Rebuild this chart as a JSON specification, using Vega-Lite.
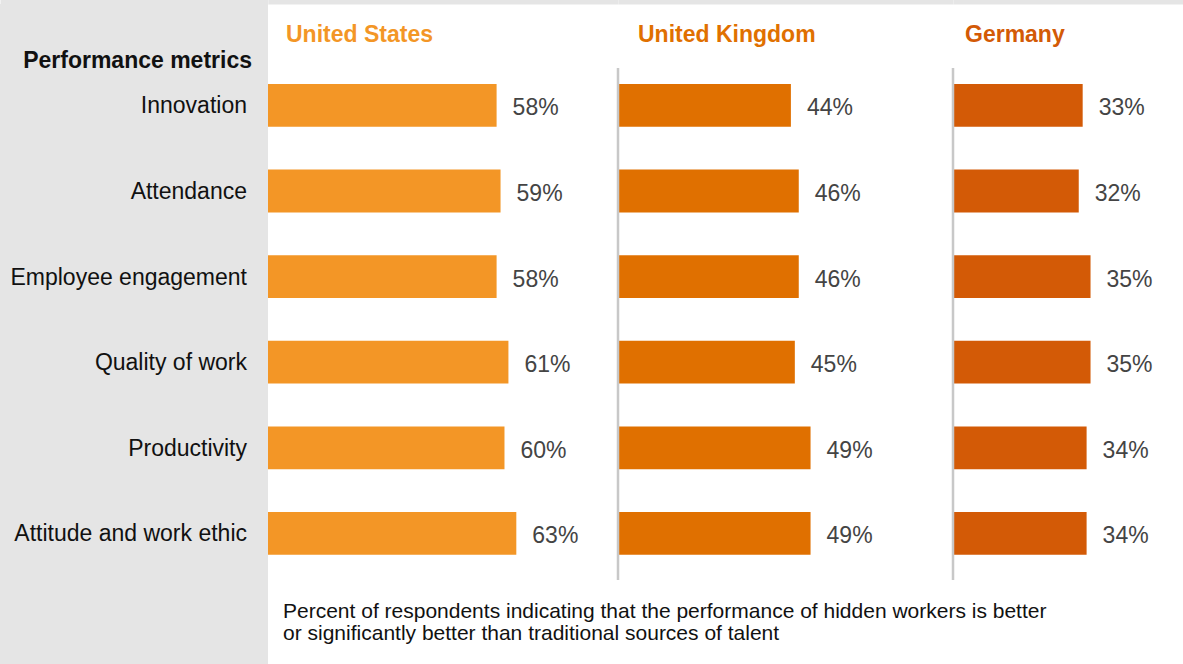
{
  "$schema": "https://vega.github.io/schema/vega-lite/v6.json",
  "background": "white",
  "padding": {"top": 0, "left": 0, "right": 0, "bottom": 0},
  "bounds": "flush",
  "spacing": 0,
  "config": {"view": {"stroke": null}, "text": {"font": "Liberation Sans"}},
  "data": {"values": [
    {"country": "United States", "metric": "Innovation", "value": 0.58},
    {"country": "United States", "metric": "Attendance", "value": 0.59},
    {"country": "United States", "metric": "Employee engagement", "value": 0.58},
    {"country": "United States", "metric": "Quality of work", "value": 0.61},
    {"country": "United States", "metric": "Productivity", "value": 0.60},
    {"country": "United States", "metric": "Attitude and work ethic", "value": 0.63},
    {"country": "United Kingdom", "metric": "Innovation", "value": 0.44},
    {"country": "United Kingdom", "metric": "Attendance", "value": 0.46},
    {"country": "United Kingdom", "metric": "Employee engagement", "value": 0.46},
    {"country": "United Kingdom", "metric": "Quality of work", "value": 0.45},
    {"country": "United Kingdom", "metric": "Productivity", "value": 0.49},
    {"country": "United Kingdom", "metric": "Attitude and work ethic", "value": 0.49},
    {"country": "Germany", "metric": "Innovation", "value": 0.33},
    {"country": "Germany", "metric": "Attendance", "value": 0.32},
    {"country": "Germany", "metric": "Employee engagement", "value": 0.35},
    {"country": "Germany", "metric": "Quality of work", "value": 0.35},
    {"country": "Germany", "metric": "Productivity", "value": 0.34},
    {"country": "Germany", "metric": "Attitude and work ethic", "value": 0.34}
  ]},
  "resolve": {"scale": {"x": "independent", "y": "independent"}},
  "hconcat": [
    {
      "width": 268, "height": 660,
      "view": {"fill": "#e5e5e5", "stroke": null},
      "transform": [{"filter": "datum.country === 'United States'"}],
      "layer": [
        {
          "mark": {"type": "text", "align": "right", "baseline": "middle", "dx": -21, "dy": 1, "fontSize": 23, "color": "#111111"},
          "encoding": {
            "y": {"field": "metric", "type": "nominal", "sort": null, "axis": null,
                  "scale": {"type": "band", "domain": ["Innovation", "Attendance", "Employee engagement", "Quality of work", "Productivity", "Attitude and work ethic"], "paddingInner": 0.29, "paddingOuter": 1, "align": 0.4147}},
            "x": {"datum": 1, "type": "quantitative", "scale": {"domain": [0, 1], "nice": false},
                  "axis": {"orient": "top", "labels": false, "ticks": false, "grid": false, "title": null, "domain": true, "domainColor": "#e5e5e5", "domainWidth": 8, "offset": 4}},
            "text": {"field": "metric"}
          }
        },
        {
          "transform": [{"filter": "datum.metric === 'Innovation'"}],
          "mark": {"type": "text", "align": "right", "baseline": "alphabetic", "dx": -16, "fontSize": 23, "fontWeight": "bold", "color": "#111111"},
          "encoding": {
            "y": {"datum": "Innovation", "type": "nominal", "bandPosition": -0.115},
            "x": {"datum": 1, "type": "quantitative"},
            "text": {"value": "Performance metrics"}
          }
        }
      ]
    },
    {
      "width": 350, "height": 660,
      "transform": [{"filter": "datum.country === 'United States'"}],
      "layer": [
        {
          "mark": {"type": "bar", "color": "#F39626", "height": {"band": 0.704}},
          "encoding": {
            "y": {"field": "metric", "type": "nominal", "sort": null, "axis": null,
                  "scale": {"type": "band", "domain": ["Innovation", "Attendance", "Employee engagement", "Quality of work", "Productivity", "Attitude and work ethic"], "paddingInner": 0.29, "paddingOuter": 1, "align": 0.4147}},
            "x": {"field": "value", "type": "quantitative", "scale": {"domain": [0, 0.888], "nice": false},
                  "axis": {"orient": "top", "labels": false, "ticks": false, "grid": false, "title": null, "domain": true, "domainColor": "#e5e5e5", "domainWidth": 8, "offset": 4}}
          }
        },
        {
          "mark": {"type": "text", "align": "left", "baseline": "middle", "dx": 16, "dy": 3, "fontSize": 23, "color": "#444444"},
          "encoding": {
            "y": {"field": "metric", "type": "nominal", "sort": null},
            "x": {"field": "value", "type": "quantitative"},
            "text": {"field": "value", "type": "quantitative", "format": ".0%"}
          }
        },
        {
          "transform": [{"filter": "datum.metric === 'Innovation'"}],
          "mark": {"type": "text", "align": "left", "baseline": "alphabetic", "dx": 18, "fontSize": 23, "fontWeight": "bold", "color": "#F39626"},
          "encoding": {
            "y": {"datum": "Innovation", "type": "nominal", "bandPosition": -0.543},
            "x": {"datum": 0, "type": "quantitative"},
            "text": {"field": "country"}
          }
        },
        {
          "transform": [{"filter": "datum.metric === 'Attitude and work ethic'"}],
          "mark": {"type": "text", "align": "left", "baseline": "alphabetic", "dx": 15, "fontSize": 21, "lineHeight": 22, "color": "#111111"},
          "encoding": {
            "y": {"datum": "Attitude and work ethic", "type": "nominal", "bandPosition": 1.9},
            "x": {"datum": 0, "type": "quantitative"},
            "text": {"value": ["Percent of respondents indicating that the performance of hidden workers is better", "or significantly better than traditional sources of talent"]}
          }
        }
      ]
    },
    {
      "width": 335, "height": 660,
      "transform": [{"filter": "datum.country === 'United Kingdom'"}],
      "layer": [
        {
          "mark": {"type": "bar", "color": "#E07000", "height": {"band": 0.704}},
          "encoding": {
            "y": {"field": "metric", "type": "nominal", "sort": null, "axis": null,
                  "scale": {"type": "band", "domain": ["Innovation", "Attendance", "Employee engagement", "Quality of work", "Productivity", "Attitude and work ethic"], "paddingInner": 0.29, "paddingOuter": 1, "align": 0.4147}},
            "x": {"field": "value", "type": "quantitative", "scale": {"domain": [0, 0.8525], "nice": false},
                  "axis": {"orient": "top", "labels": false, "ticks": false, "grid": false, "title": null, "domain": true, "domainColor": "#e5e5e5", "domainWidth": 8, "offset": 4}}
          }
        },
        {
          "mark": {"type": "text", "align": "left", "baseline": "middle", "dx": 16, "dy": 3, "fontSize": 23, "color": "#444444"},
          "encoding": {
            "y": {"field": "metric", "type": "nominal", "sort": null},
            "x": {"field": "value", "type": "quantitative"},
            "text": {"field": "value", "type": "quantitative", "format": ".0%"}
          }
        },
        {
          "transform": [{"filter": "datum.metric === 'Innovation'"}],
          "mark": {"type": "rule", "color": "#c8c8c8", "strokeWidth": 2.5},
          "encoding": {
            "y": {"datum": "Innovation", "type": "nominal", "bandPosition": -0.115},
            "y2": {"datum": "Attitude and work ethic", "bandPosition": 1.266},
            "x": {"datum": 0, "type": "quantitative"}
          }
        },
        {
          "transform": [{"filter": "datum.metric === 'Innovation'"}],
          "mark": {"type": "text", "align": "left", "baseline": "alphabetic", "dx": 20, "fontSize": 23, "fontWeight": "bold", "color": "#E07000"},
          "encoding": {
            "y": {"datum": "Innovation", "type": "nominal", "bandPosition": -0.543},
            "x": {"datum": 0, "type": "quantitative"},
            "text": {"field": "country"}
          }
        }
      ]
    },
    {
      "width": 230, "height": 660,
      "transform": [{"filter": "datum.country === 'Germany'"}],
      "layer": [
        {
          "mark": {"type": "bar", "color": "#D35A06", "height": {"band": 0.704}},
          "encoding": {
            "y": {"field": "metric", "type": "nominal", "sort": null, "axis": null,
                  "scale": {"type": "band", "domain": ["Innovation", "Attendance", "Employee engagement", "Quality of work", "Productivity", "Attitude and work ethic"], "paddingInner": 0.29, "paddingOuter": 1, "align": 0.4147}},
            "x": {"field": "value", "type": "quantitative", "scale": {"domain": [0, 0.5853], "nice": false},
                  "axis": {"orient": "top", "labels": false, "ticks": false, "grid": false, "title": null, "domain": true, "domainColor": "#e5e5e5", "domainWidth": 8, "offset": 4}}
          }
        },
        {
          "mark": {"type": "text", "align": "left", "baseline": "middle", "dx": 16, "dy": 3, "fontSize": 23, "color": "#444444"},
          "encoding": {
            "y": {"field": "metric", "type": "nominal", "sort": null},
            "x": {"field": "value", "type": "quantitative"},
            "text": {"field": "value", "type": "quantitative", "format": ".0%"}
          }
        },
        {
          "transform": [{"filter": "datum.metric === 'Innovation'"}],
          "mark": {"type": "rule", "color": "#c8c8c8", "strokeWidth": 2.5},
          "encoding": {
            "y": {"datum": "Innovation", "type": "nominal", "bandPosition": -0.115},
            "y2": {"datum": "Attitude and work ethic", "bandPosition": 1.266},
            "x": {"datum": 0, "type": "quantitative"}
          }
        },
        {
          "transform": [{"filter": "datum.metric === 'Innovation'"}],
          "mark": {"type": "text", "align": "left", "baseline": "alphabetic", "dx": 12, "fontSize": 23, "fontWeight": "bold", "color": "#D35A06"},
          "encoding": {
            "y": {"datum": "Innovation", "type": "nominal", "bandPosition": -0.543},
            "x": {"datum": 0, "type": "quantitative"},
            "text": {"field": "country"}
          }
        }
      ]
    }
  ]
}
